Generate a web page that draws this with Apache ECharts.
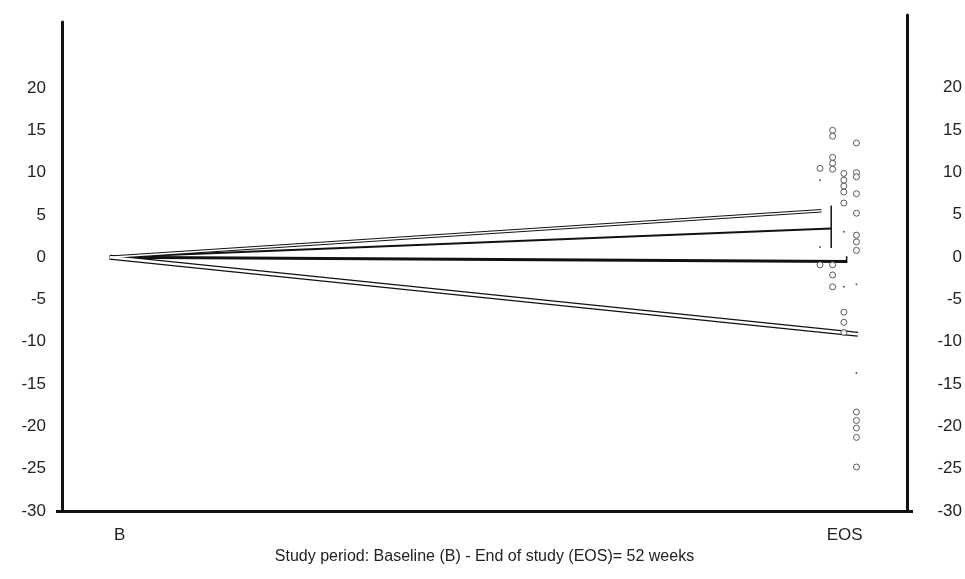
<!DOCTYPE html>
<html>
<head>
<meta charset="utf-8">
<script src="https://cdn.jsdelivr.net/npm/echarts@6/dist/echarts.min.js"></script>
<style>html,body{margin:0;padding:0;background:#fff}#c{width:965px;height:579px}</style>
</head>
<body>
<div id="c"></div>
<script>
// ---- data ----
const timepoints = ['B', 'EOS'];
const timeWeeks = [0, 52];
const yTicks = [-30, -25, -20, -15, -10, -5, 0, 5, 10, 15, 20];
const xTitle = 'Study period: Baseline (B) - End of study (EOS)= 52 weeks';

// mean change lines, start at B (0) and end near EOS (jittered column)
const meanStart = [0, 0, 0, 0];
const meanEnd = [5.5, 3.4, -0.5, -9.1];
const meanEndX = [50.7, 51.4, 52.5, 53.3];

// error bars at EOS [x, low, high]
const errX = [51.4, 52.5];
const errLow = [1.1, -0.7];
const errHigh = [6.1, 0.1];

// individual values at EOS (jittered columns)
const colX = [50.6, 51.5, 52.3, 53.2];
const g1Circles = [10.5, -0.9];
const g1Dots = [9.1, 1.2];
const g2Circles = [15, 14.3, 11.8, 11.1, 10.4, -0.9, -2.1, -3.5];
const g2Dots = [];
const g3Circles = [9.9, 9.1, 8.4, 7.7, 6.4, -6.5, -7.7, -8.9];
const g3Dots = [3.0, -3.5];
const g4Circles = [13.5, 10, 9.5, 7.5, 5.2, 2.6, 1.8, 0.8, -18.3, -19.3, -20.2, -21.3, -24.8];
const g4Dots = [-3.2, -13.7];

// ---- chart ----
const chart = echarts.init(document.getElementById('c'));
const font = 'Liberation Sans, Arial, sans-serif';
const circles = [g1Circles, g2Circles, g3Circles, g4Circles];
const dots = [g1Dots, g2Dots, g3Dots, g4Dots];

const lineStyles = [
  {outer: 3.5, inner: 1.5},
  {outer: 2, inner: 0},
  {outer: 3, inner: 0},
  {outer: 5, inner: 2.5}
];

const series = [];
meanEnd.forEach((v, i) => {
  const data = [[timeWeeks[0], meanStart[i]], [meanEndX[i], v]];
  series.push({type: 'line', xAxisIndex: 0, yAxisIndex: 0, data, symbol: 'none', silent: true, z: 3,
    lineStyle: {color: '#111', width: lineStyles[i].outer, cap: 'butt'}});
  if (lineStyles[i].inner > 0) {
    series.push({type: 'line', xAxisIndex: 0, yAxisIndex: 0, data, symbol: 'none', silent: true, z: 4,
      lineStyle: {color: '#fff', width: lineStyles[i].inner, cap: 'butt'}});
  }
});
errX.forEach((x, i) => {
  series.push({type: 'line', xAxisIndex: 0, yAxisIndex: 0, data: [[x, errLow[i]], [x, errHigh[i]]],
    symbol: 'none', silent: true, z: 5, lineStyle: {color: '#111', width: 1.5}});
});
circles.forEach((arr, i) => {
  series.push({type: 'scatter', xAxisIndex: 0, yAxisIndex: 0, data: arr.map(v => [colX[i], v]),
    symbol: 'circle', symbolSize: 6, z: 6, silent: true,
    itemStyle: {color: '#fff', borderColor: '#333', borderWidth: 1}});
});
dots.forEach((arr, i) => {
  series.push({type: 'scatter', xAxisIndex: 0, yAxisIndex: 0, data: arr.map(v => [colX[i], v]),
    symbol: 'circle', symbolSize: 2, z: 6, silent: true,
    itemStyle: {color: '#333'}});
});

const labelStyle = {color: '#222', fontFamily: font, fontSize: 17};

chart.setOption({
  animation: false,
  backgroundColor: '#fff',
  grid: [
    {left: 62, right: 58, top: 22, bottom: 68, show: false},
    {left: 62, right: 58, top: 15, bottom: 68, show: false}
  ],
  xAxis: [
    {type: 'value', gridIndex: 0, min: -3.4, max: 56.8, position: 'bottom',
      axisLine: {show: true, onZero: false, lineStyle: {color: '#111', width: 3}},
      axisTick: {show: false},
      splitLine: {show: false},
      axisLabel: Object.assign({}, labelStyle, {
        customValues: timeWeeks, margin: 16,
        formatter: v => {
          const t = timepoints[timeWeeks.indexOf(v)] || '';
          return v === timeWeeks[0] ? '{b|' + t + '}' : '{e|' + t + '}';
        },
        rich: {
          b: {color: '#222', fontFamily: font, fontSize: 17, padding: [0, 0, 0, 20]},
          e: {color: '#222', fontFamily: font, fontSize: 17, padding: [0, 0, 0, 10]}
        }
      }),
      name: xTitle, nameLocation: 'middle', nameGap: 37,
      nameTextStyle: {color: '#222', fontFamily: font, fontSize: 16}
    },
    {type: 'value', gridIndex: 1, min: -3.4, max: 56.8, show: false}
  ],
  yAxis: [
    {type: 'value', gridIndex: 0, min: -30, max: 27.8, position: 'left',
      axisLine: {show: true, onZero: false, lineStyle: {color: '#111', width: 3}},
      axisTick: {show: true, customValues: [-30], length: 6, lineStyle: {color: '#111', width: 3}},
      splitLine: {show: false},
      axisLabel: Object.assign({}, labelStyle, {customValues: yTicks, margin: 16})
    },
    {type: 'value', gridIndex: 1, min: -30, max: 28.6, position: 'right',
      axisLine: {show: true, onZero: false, lineStyle: {color: '#111', width: 3}},
      axisTick: {show: true, customValues: [-30], length: 6, lineStyle: {color: '#111', width: 3}},
      splitLine: {show: false},
      axisLabel: Object.assign({}, labelStyle, {customValues: yTicks, margin: 55, align: 'right'})
    }
  ],
  series
});
</script>
</body>
</html>
